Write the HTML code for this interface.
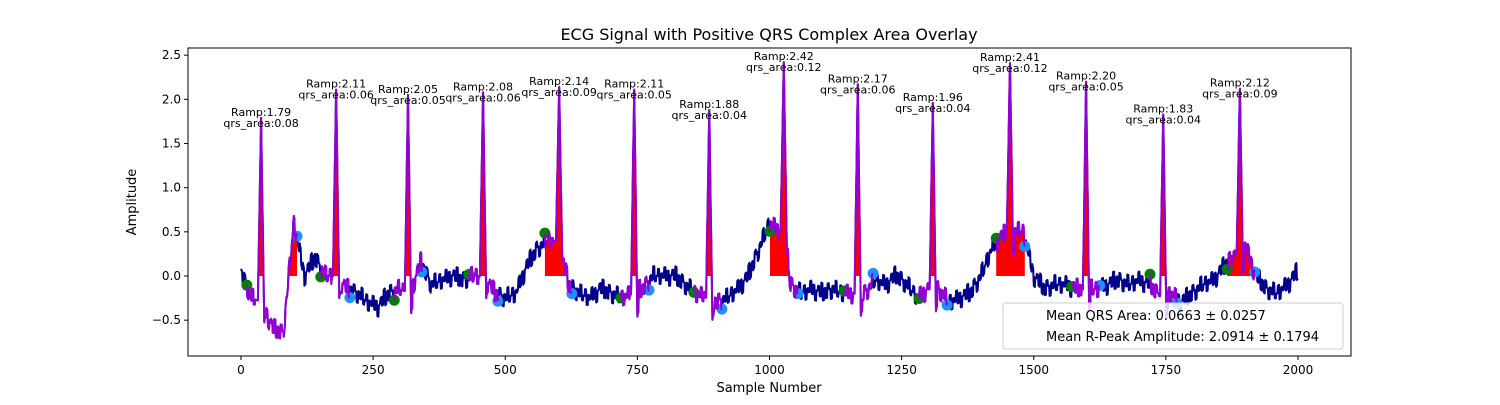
<!DOCTYPE html>
<html><head><meta charset="utf-8"><style>
body{margin:0;background:#fff;}
svg text{font-family:"DejaVu Sans","Liberation Sans",sans-serif;}
</style></head><body>
<svg id="c" width="1500" height="400" xmlns="http://www.w3.org/2000/svg">
<rect width="1500" height="400" fill="#fff"/>
<text x="769" y="40" font-size="16" text-anchor="middle">ECG Signal with Positive QRS Complex Area Overlay</text>
<g id="plot"></g>
<rect x="188" y="48" width="1163" height="308" fill="none" stroke="#000" stroke-width="1"/>
<text x="769" y="392" font-size="13" text-anchor="middle">Sample Number</text>
<text x="136" y="202" font-size="13" text-anchor="middle" transform="rotate(-90 136 202)">Amplitude</text>
<g>
<rect x="1003" y="303" width="340" height="46" rx="3" fill="#fff" fill-opacity="0.8" stroke="#ccc"/>
<text x="1046" y="320" font-size="13">Mean QRS Area: 0.0663 ± 0.0257</text>
<text x="1046" y="341" font-size="13">Mean R-Peak Amplitude: 2.0914 ± 0.1794</text>
</g>
</svg>
<script>
const xTicks=[0,250,500,750,1000,1250,1500,1750,2000];
const yTicks=[-0.5,0.0,0.5,1.0,1.5,2.0,2.5];
const baseStep=20;
const baseline=[0.03,-0.25,-0.3,-0.6,-0.65,0.6,0.0,0.2,0.0,0.0,-0.15,-0.2,-0.3,-0.35,-0.2,-0.15,-0.2,0.15,-0.1,-0.05,0.0,-0.05,0.0,0.0,-0.2,-0.25,-0.2,0.1,0.3,0.4,0.4,-0.1,-0.2,-0.25,-0.15,-0.2,-0.25,-0.2,-0.15,0.0,0.0,0.0,-0.1,-0.2,-0.25,-0.3,-0.25,-0.15,0.0,0.3,0.6,0.5,-0.1,-0.2,-0.15,-0.2,-0.15,-0.2,-0.2,-0.2,-0.05,-0.1,0.0,-0.1,-0.25,-0.15,-0.15,-0.3,-0.25,-0.2,0.0,0.3,0.45,0.5,0.5,0.0,-0.15,-0.1,-0.1,-0.15,-0.15,-0.15,-0.1,-0.05,-0.1,-0.05,-0.1,-0.25,-0.2,-0.3,-0.2,-0.1,-0.05,0.1,0.25,0.35,0.0,-0.15,-0.2,-0.1,0.05];
const wiggle=[0.05,-0.07,0.09,0.02,-0.1,0.04,-0.03,0.11,-0.06,0.0,0.08,-0.09,0.03,-0.02,0.1,-0.05,0.06,-0.11,0.01,0.07,-0.04,0.12,-0.08];
const rPeaks=[38,180,316,458,602,744,886,1027,1167,1309,1455,1599,1745,1890];
const rAmps=[1.79,2.11,2.05,2.08,2.14,2.11,1.88,2.42,2.17,1.96,2.41,2.20,1.83,2.12];
const qrsAreas=[0.08,0.06,0.05,0.06,0.09,0.05,0.04,0.12,0.06,0.04,0.12,0.05,0.04,0.09];
const onsets=[11,151,290,431,575,719,857,1001,1141,1283,1429,1572,1720,1866];
const offsets=[106,206,342,486,626,772,910,1054,1196,1336,1483,1625,1771,1918];

const X=s=>241+s*0.5285, Y=v=>276-v*88.333;
const NS="http://www.w3.org/2000/svg";
const plot=document.getElementById('plot');
function mk(t,a){const e=document.createElementNS(NS,t);for(const k in a)e.setAttribute(k,a[k]);return e;}
xTicks.forEach(t=>{
 const l=mk('line',{x1:X(t),x2:X(t),y1:356,y2:360,stroke:'#000'});
 
 
 plot.appendChild(l);
 const tx=mk('text',{x:X(t),y:374,'font-size':12,'text-anchor':'middle'});tx.textContent=t;
 
 
 plot.appendChild(tx);
});
yTicks.forEach(t=>{
 const l=mk('line',{x1:184,x2:188,y1:Y(t),y2:Y(t),stroke:'#000'});
 
 
 plot.appendChild(l);
 const tx=mk('text',{x:181,y:Y(t)+4,'font-size':12,'text-anchor':'end'});tx.textContent=(t<0?'\u2212'+(-t).toFixed(1):t.toFixed(1));
 
 
 plot.appendChild(tx);
});
function base(s){const i=Math.min(Math.floor(s/baseStep),baseline.length-2);const f=(s-i*baseStep)/baseStep;return baseline[i]*(1-f)+baseline[i+1]*f;}
function sig(s){
 for(let k=0;k<rPeaks.length;k++){const d=s-rPeaks[k];
  if(Math.abs(d)<=8){const b=base(rPeaks[k]-8);
   if(d<=-6)return b; if(d<=0)return b+(rAmps[k]-b)*(d+6)/6; if(d<=6)return rAmps[k]+(b-0.25-rAmps[k])*d/6; return b-0.2;}}
 return base(s)+wiggle[Math.floor(s/3)%wiggle.length];
}
const pts=[];for(let s=0;s<=2000;s+=1)pts.push([s,sig(s)]);
const line=mk('polyline',{points:pts.map(p=>X(p[0]).toFixed(1)+','+Y(p[1]).toFixed(1)).join(' '),fill:'none',stroke:'#00008b','stroke-width':2,'stroke-linejoin':'round'});


plot.appendChild(line);
rPeaks.forEach((r,k)=>{
 const seg=[];for(let s=onsets[k];s<=offsets[k];s+=1)seg.push([s,sig(s)]);
 const fp=[[onsets[k],0]].concat(seg.map(p=>[p[0],Math.max(0,p[1])])).concat([[offsets[k],0]]);
 const fill=mk('polygon',{points:fp.map(p=>X(p[0]).toFixed(1)+','+Y(p[1]).toFixed(1)).join(' '),fill:'#ff0000'});
 
 
 plot.appendChild(fill);
 const pl=mk('polyline',{points:seg.map(p=>X(p[0]).toFixed(1)+','+Y(p[1]).toFixed(1)).join(' '),fill:'none',stroke:'#9400d3','stroke-width':2,'stroke-linejoin':'round'});
 
 
 plot.appendChild(pl);
 const g=mk('circle',{cx:X(onsets[k]),cy:Y(sig(onsets[k])),r:5.5,fill:'#008000'});
 
 
 plot.insertBefore(g,pl);
 const b=mk('circle',{cx:X(offsets[k]),cy:Y(sig(offsets[k])),r:5.5,fill:'#1e90ff'});
 
 
 plot.insertBefore(b,pl);
 const t1=mk('text',{x:X(r),y:Y(rAmps[k])-2,'font-size':11,'text-anchor':'middle'});t1.textContent='Ramp:'+rAmps[k].toFixed(2);
 
 
 plot.appendChild(t1);
 const t2=mk('text',{x:X(r),y:Y(rAmps[k])+9,'font-size':11,'text-anchor':'middle'});t2.textContent='qrs_area:'+qrsAreas[k].toFixed(2);
 
 
 plot.appendChild(t2);
});
</script>
</body></html>
